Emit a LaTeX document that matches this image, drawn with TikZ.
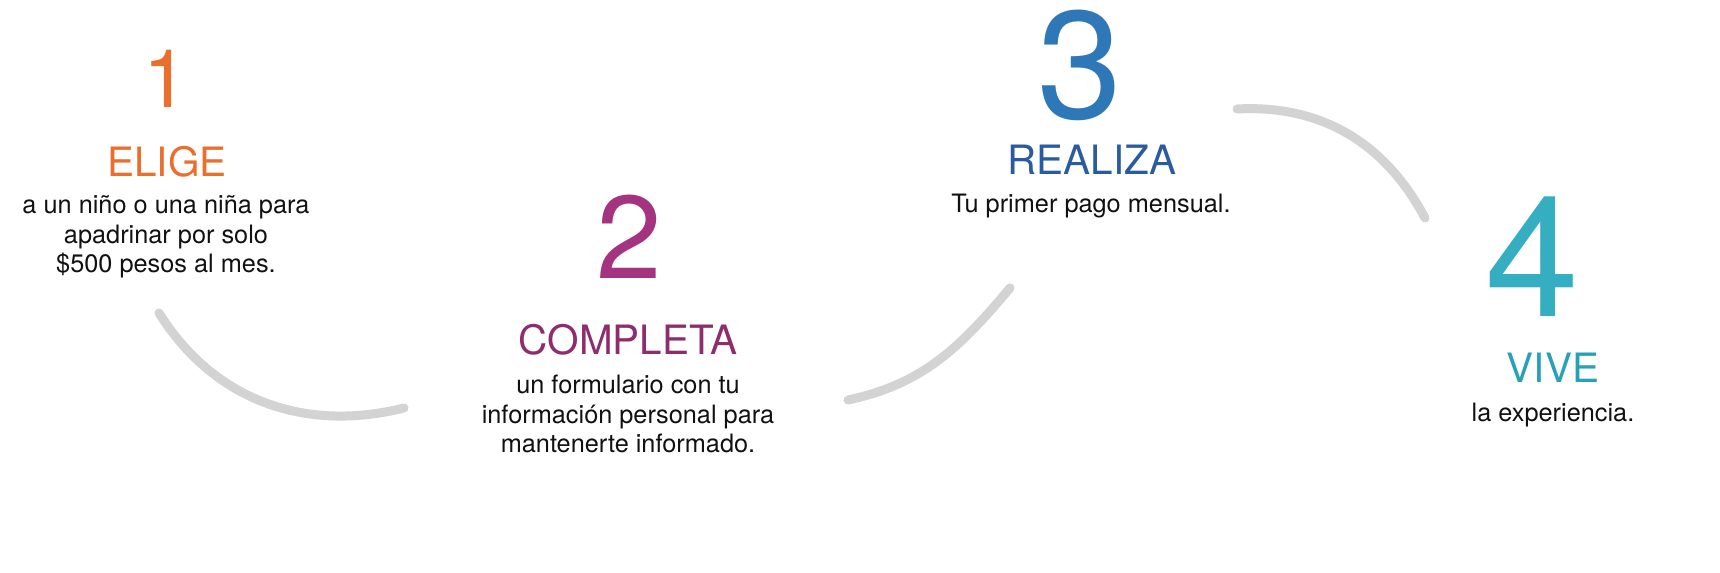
\documentclass[tikz,border=0pt]{standalone}
\usepackage{fontspec}
\setmainfont{TeX Gyre Heros}

\definecolor{naranja}{RGB}{234,110,44}
\definecolor{morado}{RGB}{164,52,127}
\definecolor{moradoosc}{RGB}{142,45,108}
\definecolor{azul}{RGB}{46,120,184}
\definecolor{azulosc}{RGB}{43,91,159}
\definecolor{turquesa}{RGB}{53,174,194}
\definecolor{turquesaosc}{RGB}{39,161,182}
\definecolor{gris}{RGB}{211,211,211}
\definecolor{texto}{RGB}{17,17,17}

\begin{document}
\begin{tikzpicture}[x=0.01cm, y=0.01cm,
  every node/.style={inner sep=0pt, anchor=base, align=center},
  titulo/.style={font=\fontsize{11.5}{11.5}\selectfont},
  cuerpo/.style={text=texto, font=\fontsize{7.2}{8.5}\selectfont},
  arco/.style={draw=gris, line width=2.56pt, line cap=round}]
  \useasboundingbox (0,0) rectangle (1720,573);

  % Paso 1
  \node[text=naranja, font=\fontsize{23}{23}\selectfont] (num1) at (166,465) {1};
  \node[titulo, text=naranja] (tit1) at (167,396) {ELIGE};
  \node[cuerpo] (txt1) at (166,300)
    {a un niño o una niña para\\apadrinar por solo\\\$500 pesos al mes.};

  % Paso 2
  \node[text=morado, font=\fontsize{33.5}{33.5}\selectfont] (num2) at (629,294) {2};
  \node[titulo, text=moradoosc] (tit2) at (628,218) {COMPLETA};
  \node[cuerpo] (txt2) at (628,120)
    {un formulario con tu\\información personal para\\mantenerte informado.};

  % Paso 3
  \node[text=azul, font=\fontsize{43.5}{43.5}\selectfont] (num3) at (1080,454) {3};
  \node[titulo, text=azulosc] (tit3) at (1092,398) {REALIZA};
  \node[cuerpo] (txt3) at (1091,360) {Tu primer pago mensual.};

  % Paso 4
  \node[text=turquesa, font=\fontsize{48}{48}\selectfont] (num4) at (1532,256) {4};
  \node[titulo, text=turquesaosc] (tit4) at (1553,190) {VIVE};
  \node[cuerpo] (txt4) at (1553,151) {la experiencia.};

  % Arcos
  \coordinate (a1) at (159,260);
  \coordinate (b1) at (404,165);
  \coordinate (a2) at (848,173);
  \coordinate (b2) at (1010,285);
  \coordinate (a3) at (1237,464);
  \coordinate (b3) at (1425,355);

  \foreach \i/\o/\n in {1/-58/194, 2/12/230, 3/3/118}
    \draw[arco] (a\i) to[out=\o, in=\n] (b\i);
\end{tikzpicture}
\end{document}
